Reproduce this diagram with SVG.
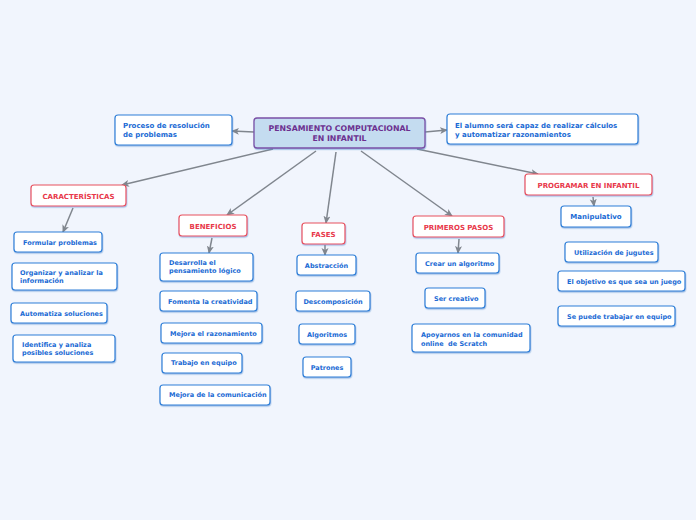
<svg xmlns="http://www.w3.org/2000/svg" width="696" height="520" viewBox="0 0 696 520">
<defs>
<filter id="sh" x="-10%" y="-20%" width="120%" height="150%"><feDropShadow dx="0.5" dy="1.2" stdDeviation="0.6" flood-color="#5a8fd0" flood-opacity="0.55"/></filter>
<marker id="ah" markerWidth="8" markerHeight="8" refX="7" refY="4" orient="auto" markerUnits="userSpaceOnUse"><path d="M0,0.5 L8,4 L0,7.5 L2,4 Z" fill="#80868e"/></marker>
<style>
.b{fill:#fff;stroke:#2f7fd8;stroke-width:1.2;filter:url(#sh)}
.r{fill:#fff;stroke:#e8505c;stroke-width:1.2;filter:url(#sh)}
.c{fill:#c4dcf0;stroke:#7a4fa6;stroke-width:1.3;filter:url(#sh)}
text{font-family:"DejaVu Sans",Verdana,sans-serif;font-weight:bold}
.t{fill:#1a6ad4;font-size:6.5px}
.t1{fill:#1a6ad4;font-size:7px}
.tr{fill:#e8384a;font-size:7px;text-anchor:middle}
.tc{fill:#6b2f8f;font-size:7.8px;text-anchor:middle}
.m{text-anchor:middle}
.k{stroke:#80868e;stroke-width:1.5;fill:none;marker-end:url(#ah)}
</style>
</defs>
<rect width="696" height="520" fill="#f1f5fd"/>
<g id="connectors">
<line class="k" x1="254" y1="132" x2="232" y2="131"/>
<line class="k" x1="425" y1="132" x2="447" y2="130"/>
<line class="k" x1="273" y1="149" x2="122" y2="185"/>
<line class="k" x1="316" y1="151" x2="227" y2="215"/>
<line class="k" x1="336" y1="152" x2="326" y2="223"/>
<line class="k" x1="361" y1="151" x2="452" y2="216"/>
<line class="k" x1="417" y1="149" x2="538" y2="174"/>
<line class="k" x1="73" y1="208" x2="63" y2="232"/>
<line class="k" x1="212" y1="238" x2="209" y2="253"/>
<line class="k" x1="325" y1="245" x2="325" y2="255"/>
<line class="k" x1="459" y1="239" x2="458" y2="253"/>
<line class="k" x1="593" y1="197" x2="594" y2="206"/>
</g>
<g id="central"><rect class="c" x="254" y="118" width="171" height="30" rx="3"/><text class="tc" x="339.5" y="131">PENSAMIENTO COMPUTACIONAL</text><text class="tc" x="339.5" y="141">EN INFANTIL</text></g>
<g id="proceso"><rect class="b" x="115" y="115" width="117" height="30" rx="3"/><text class="t1" x="123" y="128">Proceso de resolución</text><text class="t1" x="123" y="137">de problemas</text></g>
<g id="alumno"><rect class="b" x="447" y="114" width="191" height="30" rx="3"/><text class="t1" x="455" y="128">El alumno será capaz de realizar cálculos</text><text class="t1" x="455" y="137">y automatizar razonamientos</text></g>
<g id="caracteristicas"><rect class="r" x="31" y="185" width="95" height="21" rx="3"/><text class="tr" x="78.5" y="199">CARACTERÍSTICAS</text></g>
<g id="beneficios"><rect class="r" x="179" y="215" width="68" height="21" rx="3"/><text class="tr" x="213" y="228.5">BENEFICIOS</text></g>
<g id="fases"><rect class="r" x="302" y="223" width="43" height="21" rx="3"/><text class="tr" x="323.5" y="236.5">FASES</text></g>
<g id="primeros"><rect class="r" x="413" y="216" width="91" height="21" rx="3"/><text class="tr" x="458.5" y="229.5">PRIMEROS PASOS</text></g>
<g id="programar"><rect class="r" x="525" y="174" width="127" height="21" rx="3"/><text class="tr" x="588.5" y="187.5">PROGRAMAR EN INFANTIL</text></g>
<g id="formular"><rect class="b" x="14" y="232" width="88" height="20" rx="3"/><text class="t" x="23" y="244.5">Formular problemas</text></g>
<g id="organizar"><rect class="b" x="12" y="263" width="105" height="27" rx="3"/><text class="t" x="20" y="274.5">Organizar y analizar la</text><text class="t" x="20" y="283">información</text></g>
<g id="automatiza"><rect class="b" x="11" y="303" width="96" height="20" rx="3"/><text class="t" x="20" y="315.5">Automatiza soluciones</text></g>
<g id="identifica"><rect class="b" x="13" y="335" width="102" height="27" rx="3"/><text class="t" x="22" y="346.5">Identifica y analiza</text><text class="t" x="22" y="355">posibles soluciones</text></g>
<g id="desarrolla"><rect class="b" x="160" y="253" width="93" height="28" rx="3"/><text class="t" x="169" y="264.5">Desarrolla el</text><text class="t" x="169" y="273">pensamiento lógico</text></g>
<g id="fomenta"><rect class="b" x="160" y="291" width="97" height="20" rx="3"/><text class="t" x="168" y="303.5">Fomenta la creatividad</text></g>
<g id="mejora-raz"><rect class="b" x="161" y="323" width="101" height="20" rx="3"/><text class="t" x="170" y="335.5">Mejora el razonamiento</text></g>
<g id="trabajo"><rect class="b" x="162" y="353" width="80" height="20" rx="3"/><text class="t" x="171" y="365">Trabajo en equipo</text></g>
<g id="mejora-com"><rect class="b" x="160" y="385" width="110" height="20" rx="3"/><text class="t" x="169" y="397">Mejora de la comunicación</text></g>
<g id="abstraccion"><rect class="b" x="297" y="255" width="59" height="20" rx="3"/><text class="t m" x="326.5" y="267.5">Abstracción</text></g>
<g id="descomposicion"><rect class="b" x="296" y="291" width="74" height="20" rx="3"/><text class="t m" x="333" y="303.5">Descomposición</text></g>
<g id="algoritmos"><rect class="b" x="299" y="324" width="56" height="20" rx="3"/><text class="t m" x="327" y="336.5">Algoritmos</text></g>
<g id="patrones"><rect class="b" x="303" y="357" width="48" height="20" rx="3"/><text class="t m" x="327" y="369.5">Patrones</text></g>
<g id="crear"><rect class="b" x="416" y="253" width="83" height="20" rx="3"/><text class="t" x="425" y="265.5">Crear un algoritmo</text></g>
<g id="creativo"><rect class="b" x="425" y="288" width="60" height="20" rx="3"/><text class="t" x="434" y="300.5">Ser creativo</text></g>
<g id="apoyarnos"><rect class="b" x="412" y="324" width="118" height="28" rx="3"/><text class="t" x="421" y="337">Apoyarnos en la comunidad</text><text class="t" x="421" y="345.5" xml:space="preserve">online  de Scratch</text></g>
<g id="manipulativo"><rect class="b" x="561" y="206" width="70" height="21" rx="3"/><text class="t1 m" x="596" y="219">Manipulativo</text></g>
<g id="utilizacion"><rect class="b" x="565" y="242" width="93" height="20" rx="3"/><text class="t" x="574" y="254.5">Utilización de jugutes</text></g>
<g id="objetivo"><rect class="b" x="558" y="271" width="127" height="20" rx="3"/><text class="t" x="567" y="283.5">El objetivo es que sea un juego</text></g>
<g id="equipo"><rect class="b" x="558" y="306" width="117" height="20" rx="3"/><text class="t" x="567" y="318.5">Se puede trabajar en equipo</text></g>
</svg>
